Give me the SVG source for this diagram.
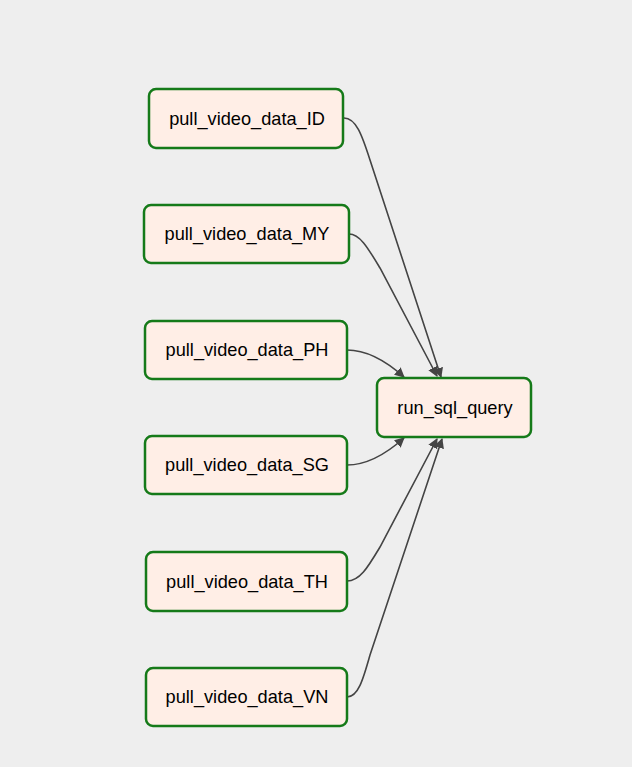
<svg xmlns="http://www.w3.org/2000/svg" width="632" height="767" viewBox="0 0 632 767">
<defs>
<style>
.node rect{fill:#ffeee6;stroke:#157a19;stroke-width:2.5}
.node text{font-family:"Liberation Sans",Arial,sans-serif;font-size:18.2px;fill:#000;text-anchor:middle;dominant-baseline:central}
.edge{fill:none;stroke:#444444;stroke-width:1.6;marker-end:url(#arr)}
</style>
<marker id="arr" viewBox="0 0 10 10" refX="9" refY="5" markerWidth="10" markerHeight="10" markerUnits="userSpaceOnUse" orient="auto">
<path d="M0,0 L10,5 L0,10 z" fill="#444444"/>
</marker>
</defs>
<rect width="632" height="767" fill="#eeeeee"/>
<g id="edges">
<path class="edge" d="M344,118 C356,118 362,135 370,160 L441,377"/>
<path class="edge" d="M349,234 C360,234 368,248 380,268 L437,376"/>
<path class="edge" d="M347,350 C365,350 385,360 404,377"/>
<path class="edge" d="M347,465 C365,465 385,455 404,438"/>
<path class="edge" d="M347,581 C360,581 368,567 380,547 L437,439"/>
<path class="edge" d="M347,697 C358,697 363,680 370,655 L442,439"/>
</g>
<g id="pull_video_data_ID" class="node"><rect x="149" y="89" width="194" height="59" rx="7"/><text x="247" y="118.5">pull_video_data_ID</text></g>
<g id="pull_video_data_MY" class="node"><rect x="144" y="205" width="205" height="58" rx="7"/><text x="247" y="234">pull_video_data_MY</text></g>
<g id="pull_video_data_PH" class="node"><rect x="145" y="321" width="202" height="58" rx="7"/><text x="247" y="350">pull_video_data_PH</text></g>
<g id="pull_video_data_SG" class="node"><rect x="145" y="436" width="202" height="58" rx="7"/><text x="247" y="465">pull_video_data_SG</text></g>
<g id="pull_video_data_TH" class="node"><rect x="146" y="552" width="201" height="59" rx="7"/><text x="247" y="581.5">pull_video_data_TH</text></g>
<g id="pull_video_data_VN" class="node"><rect x="146" y="668" width="201" height="58" rx="7"/><text x="247" y="697">pull_video_data_VN</text></g>
<g id="run_sql_query" class="node"><rect x="377" y="378" width="154" height="59" rx="7"/><text x="455" y="407.5">run_sql_query</text></g>
</svg>
